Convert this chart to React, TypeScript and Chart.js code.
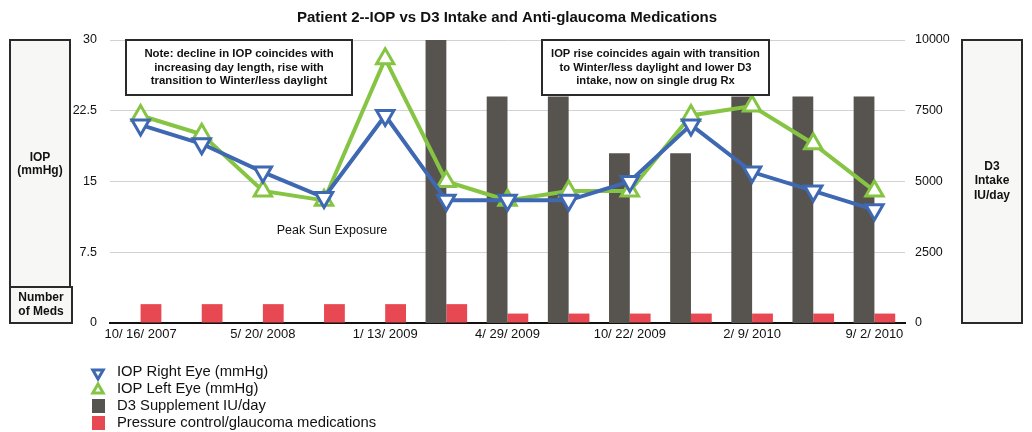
import React, { useEffect, useRef } from "react";
import { Chart, registerables } from "chart.js";

Chart.register(...registerables);

// ---- data ----
const categories = [
  "10/ 16/ 2007", "", "5/ 20/ 2008", "", "1/ 13/ 2009", "", "4/ 29/ 2009",
  "", "10/ 22/ 2009", "", "2/ 9/ 2010", "", "9/ 2/ 2010",
];
const iopRight = [21, 19, 16, 13.3, 22, 13, 13, 13, 15, 21, 16, 14, 12];
const iopLeft = [22, 20, 14, 13, 28, 15, 13, 14, 14, 22, 23, 19, 14];
const d3Intake = [0, 0, 0, 0, 0, 10000, 8000, 8000, 6000, 6000, 8000, 8000, 8000];
const meds = [2, 2, 2, 2, 2, 2, 1, 1, 1, 1, 1, 1, 1];
const leftTicks = [0, 7.5, 15, 22.5, 30];
const rightTicks = [0, 2500, 5000, 7500, 10000];

const seriesNames = [
  "IOP Right Eye (mmHg)",
  "IOP Left Eye (mmHg)",
  "D3 Supplement IU/day",
  "Pressure control/glaucoma medications",
];
const titleText = "Patient 2--IOP vs D3 Intake and Anti-glaucoma Medications";
const note1 = [
  "Note: decline in IOP coincides with",
  "increasing day length, rise with",
  "transition to Winter/less daylight",
];
const note2 = [
  "IOP rise coincides again with transition",
  "to Winter/less daylight and lower D3",
  "intake, now on single drug Rx",
];
const peakText = "Peak Sun Exposure";
const leftAxisTitle = ["IOP", "(mmHg)"];
const medsAxisTitle = ["Number", "of Meds"];
const rightAxisTitle = ["D3", "Intake", "IU/day"];

const BLUE = "#3f68b2";
const GREEN = "#86c443";
const GRAY = "#57534f";
const RED = "#e84852";
const FONT = "'Liberation Sans', Arial, Helvetica, sans-serif";

function drawTri(ctx: CanvasRenderingContext2D, x: number, y: number, r: number, down: boolean, color: string, lw: number) {
  ctx.save();
  ctx.beginPath();
  const s = down ? -1 : 1;
  ctx.moveTo(x, y - s * r);
  ctx.lineTo(x + r * 0.866, y + s * r * 0.5);
  ctx.lineTo(x - r * 0.866, y + s * r * 0.5);
  ctx.closePath();
  ctx.fillStyle = "#fff";
  ctx.fill();
  ctx.lineWidth = lw;
  ctx.strokeStyle = color;
  ctx.stroke();
  ctx.restore();
}

function boxWithText(
  ctx: CanvasRenderingContext2D,
  x1: number, y1: number, x2: number, y2: number,
  fill: string, lines: string[], cy: number, lh: number, font: string
) {
  ctx.save();
  ctx.fillStyle = fill;
  ctx.fillRect(x1, y1, x2 - x1, y2 - y1);
  ctx.lineWidth = 2;
  ctx.strokeStyle = "#2a2a2a";
  ctx.strokeRect(x1, y1, x2 - x1, y2 - y1);
  ctx.fillStyle = "#111";
  ctx.font = font;
  ctx.textAlign = "center";
  ctx.textBaseline = "middle";
  const start = cy - ((lines.length - 1) * lh) / 2;
  lines.forEach((l, i) => ctx.fillText(l, (x1 + x2) / 2, start + i * lh));
  ctx.restore();
}

const overlayPlugin = {
  id: "overlay",
  afterDraw(chart: any) {
    const ctx: CanvasRenderingContext2D = chart.ctx;
    ctx.save();
    // title
    ctx.fillStyle = "#111";
    ctx.font = `bold 15px ${FONT}`;
    ctx.textAlign = "center";
    ctx.textBaseline = "middle";
    ctx.fillText(titleText, 507, 18);

    // side boxes
    boxWithText(ctx, 10, 40, 70, 287, "#f7f7f5", leftAxisTitle, 164, 13, `bold 12px ${FONT}`);
    boxWithText(ctx, 10, 287, 72, 323, "#f7f7f5", medsAxisTitle, 305, 14, `bold 12px ${FONT}`);
    boxWithText(ctx, 962, 40, 1022, 323, "#f7f7f5", rightAxisTitle, 181, 14.5, `bold 12px ${FONT}`);

    // notes
    boxWithText(ctx, 126, 40, 352, 95, "#ffffff", note1, 67.5, 13.5, `bold 11.4px ${FONT}`);
    boxWithText(ctx, 542, 40, 769, 95, "#ffffff", note2, 67.5, 13.5, `bold 11.2px ${FONT}`);

    // peak sun
    ctx.fillStyle = "#111";
    ctx.font = `12.5px ${FONT}`;
    ctx.textAlign = "center";
    ctx.textBaseline = "middle";
    ctx.fillText(peakText, 332, 231);

    // legend
    const lx = 98;
    const tx = 117;
    const rows = [372, 389, 406, 423];
    ctx.font = `14.8px ${FONT}`;
    ctx.textAlign = "left";
    ctx.textBaseline = "middle";
    drawTri(ctx, lx, rows[0] + 1, 6, true, BLUE, 3);
    drawTri(ctx, lx, rows[1] + 1, 6, false, GREEN, 3);
    ctx.fillStyle = GRAY;
    ctx.fillRect(lx - 6, rows[2] - 7, 13, 14);
    ctx.fillStyle = RED;
    ctx.fillRect(lx - 6, rows[3] - 7, 13, 14);
    ctx.fillStyle = "#111";
    seriesNames.forEach((n, i) => ctx.fillText(n, tx, rows[i]));
    ctx.restore();
  },
};

export default function App() {
  const ref = useRef<HTMLCanvasElement>(null);
  useEffect(() => {
    if (!ref.current) return;
    const tickFont = { family: FONT, size: 12.5 };
    const chart = new Chart(ref.current, {
      type: "bar",
      data: {
        labels: categories,
        datasets: [
          {
            type: "line",
            label: seriesNames[0],
            data: iopRight,
            yAxisID: "y",
            borderColor: BLUE,
            backgroundColor: "#fff",
            borderWidth: 4,
            pointStyle: "triangle",
            pointRotation: 180,
            pointRadius: 10,
            pointBorderWidth: 3,
            pointBackgroundColor: "#fff",
            pointBorderColor: BLUE,
            tension: 0,
            order: 0,
          } as any,
          {
            type: "line",
            label: seriesNames[1],
            data: iopLeft,
            yAxisID: "y",
            borderColor: GREEN,
            backgroundColor: "#fff",
            borderWidth: 4,
            pointStyle: "triangle",
            pointRadius: 10,
            pointBorderWidth: 3,
            pointBackgroundColor: "#fff",
            pointBorderColor: GREEN,
            tension: 0,
            order: 1,
          } as any,
          {
            type: "bar",
            label: seriesNames[2],
            data: d3Intake,
            yAxisID: "y2",
            backgroundColor: GRAY,
            categoryPercentage: 0.68,
            barPercentage: 1,
            order: 2,
          },
          {
            type: "bar",
            label: seriesNames[3],
            data: meds,
            yAxisID: "y",
            backgroundColor: RED,
            categoryPercentage: 0.68,
            barPercentage: 1,
            order: 3,
          },
        ],
      },
      options: {
        responsive: false,
        animation: false,
        layout: { padding: { top: 40, left: 0, right: 0, bottom: 0 } },
        plugins: {
          legend: { display: false },
          title: { display: false },
          tooltip: { enabled: false },
        },
        scales: {
          x: {
            offset: true,
            grid: { display: false, drawTicks: false },
            border: { display: true, color: "#111", width: 2 },
            ticks: {
              autoSkip: false,
              maxRotation: 0,
              minRotation: 0,
              color: "#111",
              font: { family: FONT, size: 13 },
              padding: 4,
            },
            afterFit: (s: any) => {
              s.height = 109;
            },
          },
          y: {
            position: "left",
            min: 0,
            max: 30,
            afterBuildTicks: (s: any) => {
              s.ticks = leftTicks.map((v) => ({ value: v }));
            },
            grid: { color: "#d2d2d2", lineWidth: 1, drawTicks: false },
            border: { display: false },
            ticks: { color: "#111", font: tickFont, padding: 13 },
            afterFit: (s: any) => {
              s.width = 110;
            },
          },
          y2: {
            position: "right",
            min: 0,
            max: 10000,
            afterBuildTicks: (s: any) => {
              s.ticks = rightTicks.map((v) => ({ value: v }));
            },
            grid: { display: false, drawTicks: false },
            border: { display: false },
            ticks: {
              color: "#111",
              font: tickFont,
              padding: 10,
              callback: (v: any) => String(v),
            },
            afterFit: (s: any) => {
              s.width = 127;
            },
          },
        },
      },
      plugins: [overlayPlugin],
    });
    return () => chart.destroy();
  }, []);
  return (
    <div style={{ position: "absolute", left: 0, top: 0, width: 1032, height: 432, background: "#fff" }}>
      <canvas ref={ref} width={1032} height={432} style={{ width: 1032, height: 432, display: "block" }} />
    </div>
  );
}
